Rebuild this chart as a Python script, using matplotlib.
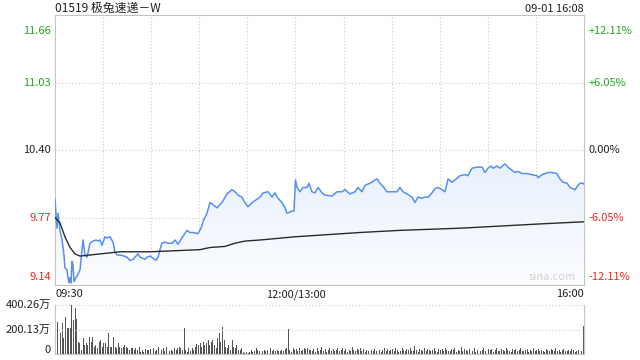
import numpy as np
import matplotlib.pyplot as plt
from matplotlib.colors import LinearSegmentedColormap

plt.rcParams['font.family'] = ['Noto Sans CJK SC', 'DejaVu Sans']

title = '01519 极兔速递－W'
stamp = '09-01 16:08'
prev_close = 10.40
price_ticks = [9.14, 9.77, 10.40, 11.03, 11.66]
pct_labels = ['-12.11%', '-6.05%', '0.00%', '+6.05%', '+12.11%']
time_labels = ['09:30', '12:00/13:00', '16:00']
vol_labels = ['0', '200.13万', '400.26万']
vol_top = 400.26

# minutes since 09:30 (lunch break removed), price in HKD
price_t = [0, 1.2, 1.9, 3.1, 4.4, 5.6, 6.2, 7.5, 8.1, 8.7, 9.4, 10.0, 10.6, 11.2, 11.9,
           13.1, 13.7, 15.6, 16.8, 17.5, 18.7, 20.0, 21.8, 23.7, 25.6, 26.8, 28.1, 29.3,
           31.2, 32.4, 34.3, 36.2, 37.4, 38.7, 40.5, 43.0, 44.9, 46.8, 48.7, 50.5, 51.8,
           53.0, 56.1, 57.4, 59.3, 61.1, 63.0, 64.3, 65.5, 66.7, 68.6, 70.5, 73.0, 74.9,
           76.7, 79.2, 82.3, 84.2, 86.1, 89.2, 91.1, 92.3, 94.8, 96.7, 98.6, 101.1, 102.9,
           104.2, 107.3, 110.4, 112.3, 114.2, 116.6, 118.5, 120.4, 122.9, 126.0, 127.9,
           129.8, 132.9, 135.4, 137.2, 139.1, 141.6, 143.5, 144.7, 146.6, 147.8, 149.1,
           150.0, 151.0, 152.8, 154.7, 157.2, 158.4, 160.3, 162.2, 164.1, 166.6, 168.4,
           172.8, 175.9, 179.0, 180.9, 184.0, 187.1, 189.0, 191.5, 193.4, 196.5, 197.7,
           199.6, 200.9, 202.7, 204.6, 207.1, 210.2, 213.3, 215.2, 217.1, 219.6, 222.7,
           224.6, 226.4, 228.9, 230.8, 232.7, 235.2, 237.0, 238.9, 241.4, 243.3, 245.2,
           247.6, 249.5, 252.6, 255.8, 257.6, 260.1, 263.2, 266.4, 268.2, 270.1, 272.0,
           273.2, 275.7, 277.6, 280.7, 282.6, 285.1, 286.9, 288.8, 291.3, 294.4, 297.5,
           300.7, 301.3, 303.8, 307.5, 310.0, 313.1, 315.0, 316.9, 319.4, 321.3, 324.4,
           326.3, 327.5, 329.4, 330.0]
price_v = [9.94, 9.67, 9.81, 9.65, 9.56, 9.42, 9.30, 9.28, 9.21, 9.16, 9.21, 9.16, 9.36, 9.33, 9.17,
           9.21, 9.22, 9.28, 9.47, 9.56, 9.42, 9.40, 9.53, 9.55, 9.56, 9.55, 9.56, 9.51,
           9.59, 9.58, 9.59, 9.54, 9.45, 9.42, 9.42, 9.41, 9.40, 9.37, 9.38, 9.41, 9.43,
           9.40, 9.38, 9.40, 9.41, 9.39, 9.37, 9.40, 9.47, 9.53, 9.54, 9.53, 9.53, 9.56,
           9.52, 9.58, 9.65, 9.63, 9.63, 9.62, 9.67, 9.73, 9.81, 9.91, 9.89, 9.86, 9.89,
           9.91, 9.99, 10.03, 10.01, 9.98, 9.96, 9.91, 9.87, 9.91, 9.94, 9.96,
           10.00, 10.01, 9.96, 10.00, 9.95, 9.91, 9.86, 9.81, 9.82, 9.83, 9.83,
           10.12, 10.05, 10.01, 10.05, 10.05, 10.09, 10.01, 10.00, 10.05, 10.00, 9.98,
           9.97, 10.01, 10.01, 10.03, 9.99, 10.01, 10.05, 10.01, 10.07, 10.09, 10.10,
           10.12, 10.13, 10.09, 10.06, 10.01, 10.01, 10.01, 10.05, 10.01, 9.99, 9.96,
           9.91, 9.96, 9.95, 9.96, 9.96, 10.00, 10.04, 10.05, 10.03, 10.01, 10.13,
           10.10, 10.12, 10.16, 10.17, 10.16, 10.23, 10.24, 10.24, 10.19, 10.23, 10.25,
           10.23, 10.25, 10.23, 10.27, 10.24, 10.21, 10.19, 10.20, 10.18, 10.18, 10.17,
           10.16, 10.14, 10.17, 10.19, 10.19, 10.18, 10.13, 10.10, 10.09, 10.05, 10.03,
           10.07, 10.09, 10.09, 10.08]

avg_t = [0, 3.1, 6.2, 9.4, 12.5, 15.6, 21.8, 28.1, 40.5, 59.3, 90.5, 96.7, 106.0,
         112.3, 118.5, 127.9, 149.7, 190.3, 215.2, 252.6, 277.6, 302.5, 330.0]
avg_v = [9.77, 9.72, 9.59, 9.49, 9.43, 9.41, 9.42, 9.43, 9.45, 9.45, 9.47, 9.49, 9.50,
         9.53, 9.55, 9.56, 9.59, 9.63, 9.65, 9.67, 9.69, 9.71, 9.73]

# per-minute volume, 万 shares
volume = [318, 264, 283, 169, 250, 128, 305, 209, 209, 209, 400, 277, 373, 283, 101, 87,
          33, 128, 73, 87, 73, 141, 101, 141, 60, 73, 46, 101, 114, 60, 87, 87, 60, 169,
          60, 60, 141, 60, 46, 87, 60, 46, 60, 73, 60, 46, 33, 46, 46, 33, 46, 33, 60, 19,
          33, 19, 38, 33, 33, 38, 19, 46, 27, 33, 60, 73, 33, 46, 27, 60, 33, 27, 33, 27,
          46, 33, 46, 54, 46, 33, 209, 33, 19, 46, 27, 46, 33, 60, 82, 73, 87, 60, 101, 73,
          87, 114, 73, 101, 114, 73, 46, 128, 169, 101, 223, 114, 60, 46, 73, 33, 114, 60,
          46, 73, 33, 33, 46, 19, 11, 19, 11, 19, 33, 19, 27, 46, 33, 24, 33, 27, 33, 22,
          33, 27, 46, 24, 33, 27, 33, 22, 27, 33, 27, 38, 46, 201, 33, 19, 46, 33, 38, 27,
          46, 24, 33, 46, 38, 46, 33,
          30, 22, 38, 19, 46, 27, 33, 54, 24, 41, 19, 33, 46, 27, 38, 22, 30, 50, 27, 33,
          46, 24, 38, 19, 33, 27, 54, 30, 22, 41, 33, 46, 27, 38, 19, 30, 24, 46, 33, 27,
          38, 22, 54, 30, 19, 33, 46, 27, 41, 24, 30, 38, 22, 46, 33, 19, 27, 50, 30, 24,
          38, 33, 46, 22, 27, 65, 30, 19, 41, 33, 24, 46, 27, 38, 30, 22, 33, 50, 27, 19,
          41, 30, 38, 24, 46, 33, 27, 22, 38, 30, 46, 19, 33, 27, 54, 24, 38, 30, 22, 41,
          33, 27, 46, 19, 30, 38, 24, 33, 50, 27, 22, 41, 30, 38, 19, 33, 46, 27, 24, 38,
          30, 22, 46, 33, 27, 19, 41, 30, 38, 24, 33, 46, 27, 22, 30, 38, 19, 33, 27, 46,
          24, 30, 38, 22, 33, 27, 19, 41, 30, 24, 38, 33, 22, 46, 27, 30, 19, 33, 38, 24,
          27, 30, 22, 41, 33, 19, 27, 30, 38, 22, 225]

green = '#22a51f'
red = '#e8281e'
grid_c = '#cccccc'
spine_c = '#c4c4c4'

fig = plt.figure(figsize=(6.4, 3.6), dpi=100)
W, H = 640, 360
ax = fig.add_axes([55 / W, 1 - 285 / H, 529 / W, 270 / H])
axv = fig.add_axes([55 / W, 1 - 354 / H, 529 / W, 49 / H])

ymin, ymax = price_ticks[0], price_ticks[-1]
ax.set_xlim(0, 330)
ax.set_ylim(ymin, ymax)

# gradient fill under price line
cmap = LinearSegmentedColormap.from_list('fill', ['#fcfdff', '#e9f1fd'])
grad = np.linspace(0, 1, 256).reshape(-1, 1)
img = ax.imshow(grad, extent=[0, 330, ymin, 10.25], origin='lower', aspect='auto',
                cmap=cmap, zorder=1)
poly = ax.fill_between(price_t, price_v, ymin, color='none', lw=0)
img.set_clip_path(poly.get_paths()[0], ax.transData)
ax.set_ylim(ymin, ymax)

ax.plot(price_t, price_v, color='#5590f0', lw=1.1, zorder=3)
ax.plot(avg_t, avg_v, color='#2b2b2b', lw=1.0, zorder=3)

for x in range(30, 330, 30):
    ax.axvline(x, color=grid_c, lw=0.8, ls=(0, (1, 2)), zorder=0)
for y in price_ticks[1:-1]:
    ax.axhline(y, color=grid_c, lw=0.8, ls=(0, (1, 2)), zorder=0)
ax.set_xticks([])
ax.set_yticks([])
for s in ax.spines.values():
    s.set_color(spine_c)
    s.set_linewidth(0.8)

fs = 8
offs = [5.5, 0, 0, 0, -11.5]
for val, pct, dy in zip(price_ticks, pct_labels, offs):
    if val > prev_close + 1e-9:
        c = green
    elif val < prev_close - 1e-9:
        c = red
    else:
        c = '#222222'
    ax.annotate(f'{val:.2f}', xy=(0, val), xycoords=('axes fraction', 'data'),
                xytext=(-3, dy), textcoords='offset points', ha='right', va='center',
                fontsize=fs, color=c)
    ax.annotate(pct, xy=(1, val), xycoords=('axes fraction', 'data'),
                xytext=(3.5, dy), textcoords='offset points', ha='left', va='center',
                fontsize=fs, color=c)

ax.text(0.985, 0.012, 'sina.com', transform=ax.transAxes, ha='right', va='bottom',
        fontsize=8, color='#d0d0d0')

# time labels under main chart
ty = -0.015
ax.text(0, ty, time_labels[0], transform=ax.transAxes, ha='left', va='top', fontsize=fs, color='#222222')
ax.text(150 / 330, ty, time_labels[1], transform=ax.transAxes, ha='center', va='top', fontsize=fs, color='#222222')
ax.text(1, ty, time_labels[2], transform=ax.transAxes, ha='right', va='top', fontsize=fs, color='#222222')

fig.text(55 / W, 1 - 8.5 / H, title, ha='left', va='center', fontsize=8.6, color='#222222')
fig.text(584 / W, 1 - 8.5 / H, stamp, ha='right', va='center', fontsize=fs, color='#222222')

# volume panel
vt = np.arange(len(volume)) + 0.5
axv.bar(vt, volume, width=0.6, color='#555555', lw=0)
axv.set_xlim(0, 330)
axv.set_ylim(0, vol_top)
axv.axhline(vol_top, color=grid_c, lw=0.8, ls=(0, (1, 2)))
axv.axhline(vol_top / 2, color=grid_c, lw=0.8, ls=(0, (1, 2)))
axv.set_xticks([])
axv.set_yticks([])
axv.spines['top'].set_visible(False)
for k in ['left', 'right', 'bottom']:
    axv.spines[k].set_color(spine_c)
    axv.spines[k].set_linewidth(0.8)
for val, lab, dy in zip([0, vol_top / 2, vol_top], vol_labels, [3, 0, 0]):
    axv.annotate(lab, xy=(0, val), xycoords=('axes fraction', 'data'),
                 xytext=(-3, dy), textcoords='offset points', ha='right', va='center',
                 fontsize=fs, color='#222222')

fig.savefig('out.png', dpi=100)
